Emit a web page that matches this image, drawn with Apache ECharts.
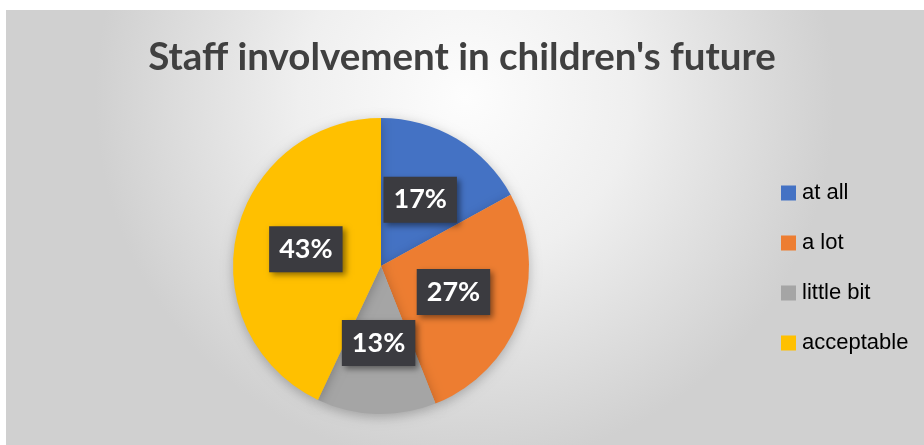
<!DOCTYPE html>
<html>
<head>
<meta charset="utf-8">
<script src="https://cdn.jsdelivr.net/npm/echarts@6/dist/echarts.min.js"></script>
<style>
html,body{margin:0;padding:0;background:#fff;}
#c{width:924px;height:445px;}
</style>
</head>
<body>
<div id="c"></div>
<script>
const titleText = "Staff involvement in children's future";
const categories = ["at all", "a lot", "little bit", "acceptable"];
const values = [17, 27, 13, 43];
const colors = ["#4472C4", "#ED7D31", "#A5A5A5", "#FFC000"];

const chart = echarts.init(document.getElementById('c'), null, {renderer: 'canvas'});
chart.setOption({
  animation: false,
  backgroundColor: '#ffffff',
  graphic: [{
    type: 'rect',
    left: 6, top: 10,
    shape: {width: 918, height: 435},
    style: {
      fill: new echarts.graphic.RadialGradient(0.5, 0.2, 0.85, [
        {offset: 0, color: '#fdfdfd'},
        {offset: 0.45, color: '#efefef'},
        {offset: 1, color: '#d0d0d0'}
      ])
    },
    z: -10
  }],
  title: {
    text: titleText,
    left: 'center',
    top: 33,
    textStyle: {
      fontFamily: 'Lato',
      fontWeight: 'bold',
      fontSize: 38.5,
      color: '#404040'
    }
  },
  legend: {
    orient: 'vertical',
    left: 776,
    top: 177,
    itemWidth: 15,
    itemHeight: 15,
    itemGap: 28,
    icon: 'rect',
    data: categories,
    textStyle: {
      fontFamily: 'Liberation Sans',
      fontSize: 22,
      color: '#000000',
      padding: [0, 0, 0, 1]
    }
  },
  series: [{
    type: 'pie',
    center: [381, 266],
    radius: 148,
    startAngle: 90,
    clockwise: true,
    data: categories.map((c, i) => ({name: c, value: values[i], itemStyle: {color: colors[i]}})),
    itemStyle: {
      shadowBlur: 12,
      shadowColor: 'rgba(0,0,0,0.25)',
      shadowOffsetY: 3
    },
    label: {
      show: true,
      position: 'inside',
      formatter: p => Math.round(p.percent) + '%',
      fontFamily: 'Lato',
      fontWeight: 'bold',
      fontSize: 27,
      color: '#ffffff',
      backgroundColor: '#3b3b40',
      padding: [10, 10, 9, 10],
      shadowBlur: 6,
      shadowColor: 'rgba(0,0,0,0.45)',
      shadowOffsetX: 3,
      shadowOffsetY: 3
    },
    labelLine: {show: false}
  }]
});
</script>
</body>
</html>
